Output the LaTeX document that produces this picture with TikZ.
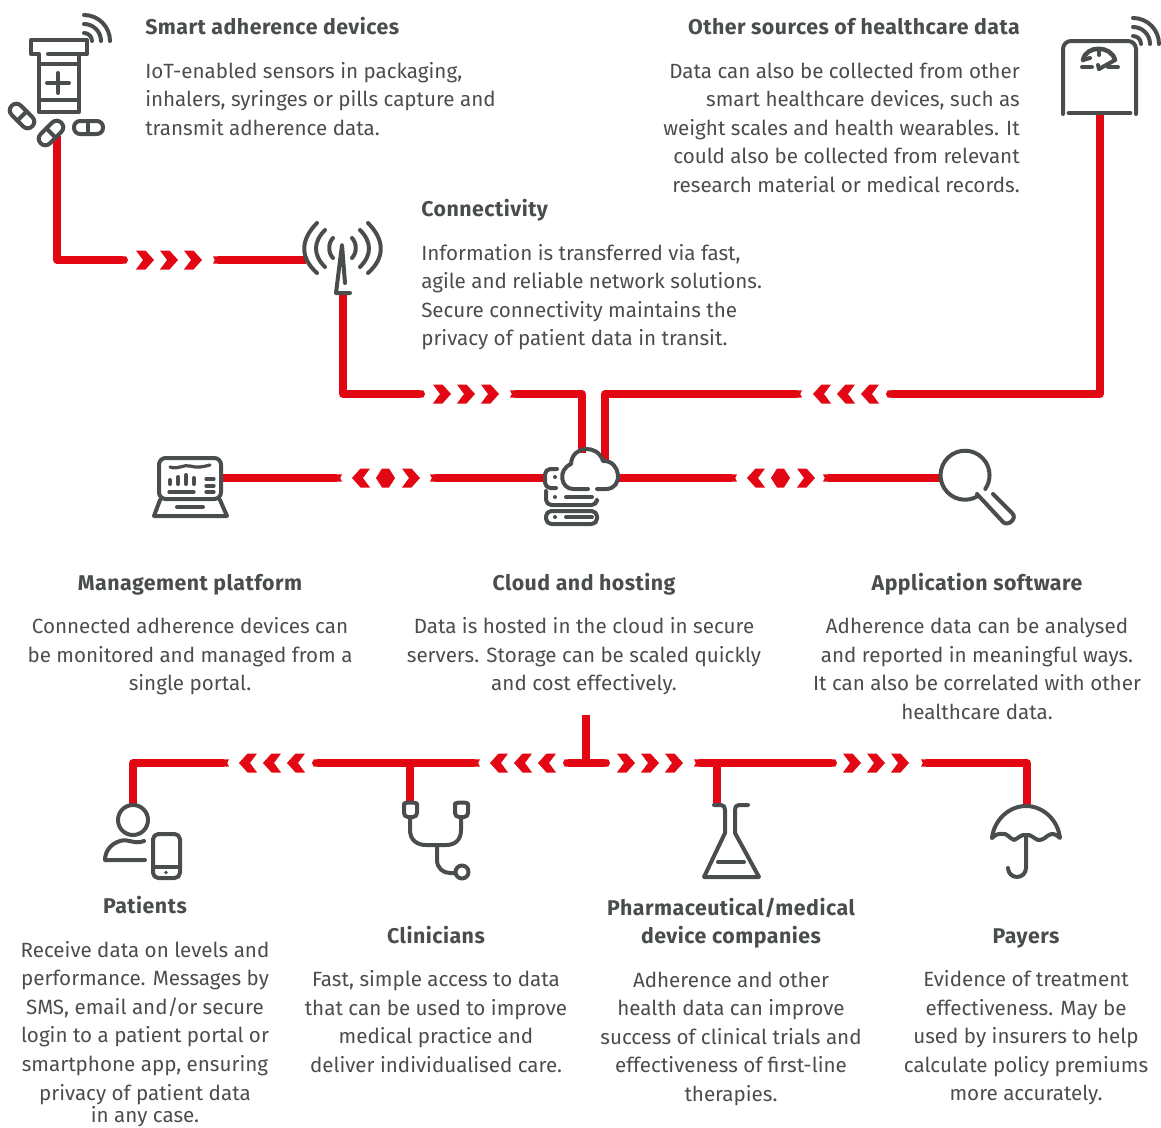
\documentclass[tikz,border=0pt]{standalone}
\usepackage{fontspec}
\setmainfont{Fira Sans}
\usetikzlibrary{arrows.meta}
\definecolor{vred}{HTML}{E30613}
\definecolor{vgray}{HTML}{4A4D4E}
\newcommand{\hd}[1]{{\fontsize{16}{21.45}\selectfont\bfseries\addfontfeature{LetterSpace=2.3}\strut #1}}
\tikzset{
  x=0.75pt,y=-0.75pt,
  flow/.style={draw=vred,line width=5.6pt,line join=round,line cap=butt},
  tipend/.style={-{Triangle Cap[length=1.3pt]}},
  notchend/.style={-{Triangle Cap[length=1.3pt,reversed]}},
  notchstart/.style={{Triangle Cap[length=1.3pt,reversed]}-},
  notchtip/.style={{Triangle Cap[length=1.3pt,reversed]}-{Triangle Cap[length=1.3pt]}},
  tiptip/.style={{Triangle Cap[length=1.3pt]}-{Triangle Cap[length=1.3pt]}},
  icon/.style={draw=vgray,line width=3pt,line cap=round,line join=round},
  iconthin/.style={draw=vgray,line width=2.4pt,line cap=round,line join=round},
  txt/.style={inner sep=0pt,text=vgray,font=\fontsize{15.45}{21.45}\selectfont},
  txtl/.style={txt,anchor=north west,align=left},
  txtr/.style={txt,anchor=north east,align=right},
  txtc/.style={txt,anchor=north,align=center},
  flowr/.pic={\foreach \d in {0,24,48}
    \fill[vred] (\d,-9.5)--(\d+9.5,-9.5)--(\d+18,0)--(\d+9.5,9.5)--(\d,9.5)--(\d+7,0)--cycle;},
  flowl/.pic={\foreach \d in {0,24,48}
    \fill[vred] (\d,0)--(\d+8.5,-9.5)--(\d+18,-9.5)--(\d+11,0)--(\d+18,9.5)--(\d+8.5,9.5)--cycle;},
  flowd/.pic={
    \fill[vred] (0,0)--(8.5,-9.5)--(18,-9.5)--(11,0)--(18,9.5)--(8.5,9.5)--cycle;
    \fill[vred] (24,0)--(30,-9.5)--(37,-9.5)--(43,0)--(37,9.5)--(30,9.5)--cycle;
    \fill[vred] (50,-9.5)--(59.5,-9.5)--(68,0)--(59.5,9.5)--(50,9.5)--(57,0)--cycle;},
  wifi/.pic={
    \draw[icon] (0,-26) arc (-90:0:26);
    \draw[icon] (0,-17) arc (-90:0:17);
    \draw[icon] (0,-8) arc (-90:0:8);}
}
\begin{document}
\begin{tikzpicture}
\useasboundingbox (0,0) rectangle (1161,1128);
% anchors of connectors
\coordinate (pill) at (57,136);
\coordinate (a1) at (128,260);
\coordinate (a2) at (213,260);
\coordinate (mast) at (306,260);
\coordinate (mastb) at (343,295);
\coordinate (b1) at (425,394);
\coordinate (b2) at (510,394);
\coordinate (cl) at (582,453);
\coordinate (cr) at (605,461);
\coordinate (c1) at (802,394);
\coordinate (c2) at (886,394);
\coordinate (scale) at (1100,115);
\coordinate (lap) at (222,478);
\coordinate (d1) at (342,478);
\coordinate (d2) at (430,478);
\coordinate (cloudl) at (546,478);
\coordinate (cloudr) at (618,478);
\coordinate (e1) at (737,478);
\coordinate (e2) at (823,478);
\coordinate (lens) at (941,478);
\coordinate (stem) at (586,715);
\coordinate (hub) at (586,763);
\coordinate (pat) at (133,805);
\coordinate (f1) at (229,763);
\coordinate (f2) at (312,763);
\coordinate (f3) at (480,763);
\coordinate (f4) at (563,763);
\coordinate (f5) at (610,763);
\coordinate (f6) at (694,763);
\coordinate (f7) at (837,763);
\coordinate (f8) at (921,763);
\coordinate (steth) at (410,803);
\coordinate (sj) at (410,763);
\coordinate (flask) at (717,805);
\coordinate (fj) at (717,763);
\coordinate (umb) at (1027,806);
% connectors
\draw[flow,tipend] (pill) |- (a1);
\draw[flow,notchstart] (a2) -- (mast);
\draw[flow,tipend] (mastb) |- (b1);
\draw[flow,notchstart] (b2) -| (cl);
\draw[flow,tipend] (scale) |- (c2);
\draw[flow,notchstart] (c1) -| (cr);
\draw[flow,notchend] (lap) -- (d1);
\draw[flow,notchstart] (d2) -- (cloudl);
\draw[flow,notchend] (cloudr) -- (e1);
\draw[flow,notchstart] (e2) -- (lens);
\draw[flow] (stem) -- (hub);
\draw[flow,notchstart] (f1) -| (pat);
\draw[flow,notchtip] (f3) -- (f2);
\draw[flow,tiptip] (f4) -- (f5);
\draw[flow,notchtip] (f6) -- (f7);
\draw[flow,notchstart] (f8) -| (umb);
\draw[flow] (sj) -- (steth);
\draw[flow] (fj) -- (flask);
% chevrons
\pic at (136,260) {flowr};
\pic at (433,394) {flowr};
\pic at (813,394) {flowl};
\pic at (352,478) {flowd};
\pic at (747,478) {flowd};
\pic at (239,763) {flowl};
\pic at (490,763) {flowl};
\pic at (617,763) {flowr};
\pic at (843,763) {flowr};
% bottle icon
\draw[icon] (48,54)--(87,54)--(87,40)--(31,40)--(31,54)--(39,54)--(39,112)--(79,112)--(79,54);
\draw[icon] (39,64)--(79,64);
\draw[icon] (39,100)--(79,100);
\draw[icon] (47,83)--(69,83);
\draw[icon] (58,73)--(58,93);
\pic at (84,41) {wifi};
\begin{scope}[rotate around={-45:(22,116)}]
  \draw[icon,rounded corners=4.6pt] (7.5,109.5) rectangle (36.5,122.5);
  \draw[icon] (22,109.5)--(22,122.5);
\end{scope}
\begin{scope}[rotate around={45:(51,133)}]
  \draw[icon,rounded corners=4.6pt] (36.5,126.5) rectangle (65.5,139.5);
  \draw[icon] (51,126.5)--(51,139.5);
\end{scope}
\draw[icon,rounded corners=4.6pt] (74,121) rectangle (103,134);
\draw[icon] (88,121)--(88,134);
% scale icon
\draw[icon,rounded corners=6pt] (1063,114)--(1063,41)--(1136,41)--(1136,114);
\draw[icon,line width=3.6pt] (1069,113)--(1130,113);
\draw[icon,line width=3.4pt] (1083,60) .. controls (1086,45) and (1111,45) .. (1115,60);
\draw[icon] (1082,67)--(1092,67);
\draw[icon] (1108,67)--(1118,67);
\draw[icon] (1083,60)--(1090,58);
\draw[icon] (1115,60)--(1099,69);
\draw[icon] (1099,69)--(1098,65);
\draw[icon] (1099,51)--(1099,55);
\pic at (1133,44) {wifi};
% antenna icon
\draw[icon] (345,283)--(342,245)--(336,293)--(350,293);
\draw[icon] (317,223) .. controls (300,240) and (300,258) .. (317,273);
\draw[icon] (325,230) .. controls (313,242) and (313,255) .. (325,267);
\draw[icon] (333,238) .. controls (328,243) and (328,253) .. (333,258);
\draw[icon] (368,223) .. controls (385,240) and (385,258) .. (368,273);
\draw[icon] (360,230) .. controls (372,242) and (372,255) .. (360,267);
\draw[icon] (352,238) .. controls (357,243) and (357,253) .. (352,258);
% laptop icon
\draw[icon,rounded corners=5pt] (159,458) rectangle (221,499);
\draw[icon] (160,500)--(154,516)--(227,516)--(220,500);
\draw[icon] (177,507)--(203,507);
\draw[iconthin] (170,467) .. controls (178,470) and (184,464) .. (190,466) .. controls (197,468) and (203,467) .. (210,465);
\draw[iconthin,line width=3pt] (170,480)--(170,484);
\draw[iconthin,line width=3pt] (178,477)--(178,484);
\draw[iconthin,line width=3pt] (186,475)--(186,484);
\draw[iconthin,line width=3pt] (194,478)--(194,484);
\draw[iconthin] (169,492)--(194,492);
\draw[iconthin] (206,479)--(214,479);
\draw[iconthin] (206,486)--(214,486);
\draw[iconthin] (206,492)--(214,492);
% cloud and servers icon
\draw[icon] (588,489)--(573,489) .. controls (561,489) and (557,470) .. (571,464) .. controls (572,445) and (598,444) .. (603,461) .. controls (621,460) and (624,489) .. (606,489)--(597,489);
\draw[icon,rounded corners=4pt] (557,469)--(545,469)--(545,488)--(556,488);
\draw[icon,rounded corners=4pt] (546,491)--(546,505)--(597,505)--(597,501);
\draw[icon,rounded corners=4pt] (546,511) rectangle (597,524);
\draw[icon] (566,497)--(592,497);
\draw[icon] (566,517)--(592,517);
\fill[vgray] (555,477) circle (2);
\fill[vgray] (555,497) circle (2);
\fill[vgray] (555,517) circle (2);
% magnifier icon
\draw[icon] (978,496) arc (58:394:24.5);
\draw[icon] (977,494)--(1003,522) .. controls (1008,527) and (1018,518) .. (1012,513)--(993,494);
% patient icon
\draw[icon] (133,820) circle (15);
\draw[icon] (144,841) .. controls (134,845) and (128,838) .. (120,841) .. controls (110,844) and (105,852) .. (105,860)--(145,860);
\draw[icon,rounded corners=4pt] (153,834) rectangle (180,878);
\draw[icon] (153,867)--(180,867);
\fill[vgray] (166,872.5) circle (1.8);
% stethoscope icon
\draw[icon,rounded corners=3pt] (404,817)--(404,808) .. controls (404,802) and (417,802) .. (417,808)--(417,817)--cycle;
\draw[icon,rounded corners=3pt] (455,817)--(455,808) .. controls (455,802) and (468,802) .. (468,808)--(468,817)--cycle;
\draw[icon] (410,818)--(410,830) .. controls (410,840) and (417,845) .. (426,845)--(446,845) .. controls (455,845) and (461,840) .. (461,830)--(461,818);
\draw[icon] (437,845)--(437,860) .. controls (437,868) and (443,873) .. (450,873)--(455,873);
\draw[icon] (462,872) circle (6.5);
% flask icon
\draw[icon] (714,805)--(721,805) .. controls (724,805) and (725,807) .. (725,810)--(725,833)--(704,877)--(759,877)--(735,833)--(735,810) .. controls (735,807) and (736,805) .. (739,805)--(748,805);
\draw[icon] (718,862)--(744,862);
% umbrella icon
\draw[icon] (992,838) .. controls (994,820) and (1009,806) .. (1026,806) .. controls (1043,806) and (1058,820) .. (1060,838) .. controls (1056,834) and (1052,833) .. (1049,835) .. controls (1046,836) and (1045,840) .. (1038,840) .. controls (1033,838) and (1031,834) .. (1026,835) .. controls (1021,834) and (1019,838) .. (1014,840) .. controls (1009,838) and (1007,833) .. (1003,834) .. controls (999,833) and (995,835) .. (992,838);
\draw[icon] (1026,835)--(1026,868) arc (0:180:9);
% texts
\node[txtl] (t1) at (145,14.5) {\hd{Smart adherence devices}\\[11pt]IoT-enabled sensors in packaging,\\inhalers, syringes or pills capture and\\transmit adherence data.};
\node[txtr] (t2) at (1020,14.5) {\hd{Other sources of healthcare data}\\[11pt]Data can also be collected from other\\smart healthcare devices, such as\\weight scales and health wearables. It\\could also be collected from relevant\\research material or medical records.};
\node[txtl] (t3) at (421,196.5) {\hd{Connectivity}\\[11pt]Information is transferred via fast,\\agile and reliable network solutions.\\Secure connectivity maintains the\\privacy of patient data in transit.};
\node[txtc] (t4) at (190,570) {\hd{Management platform}\\[11pt]Connected adherence devices can\\be monitored and managed from a\\single portal.};
\node[txtc] (t5) at (584,570) {\hd{Cloud and hosting}\\[11pt]Data is hosted in the cloud in secure\\servers. Storage can be scaled quickly\\and cost effectively.};
\node[txtc] (t6) at (977,570) {\hd{Application software}\\[11pt]Adherence data can be analysed\\and reported in meaningful ways.\\It can also be correlated with other\\healthcare data.};
\node[txtc] (t7) at (145,893.5) {\hd{Patients}\\[11pt]Receive data on levels and\\performance. Messages by\\SMS, email and/or secure\\login to a patient portal or\\smartphone app, ensuring\\privacy of patient data\\[-4.5pt]in any case.};
\node[txtc] (t8) at (436,923) {\hd{Clinicians}\\[11pt]Fast, simple access to data\\that can be used to improve\\medical practice and\\deliver individualised care.};
\node[txtc] (t9) at (731,895) {\hd{Pharmaceutical/medical}\\\hd{device companies}\\[11pt]Adherence and other\\health data can improve\\success of clinical trials and\\effectiveness of first-line\\therapies.};
\node[txtc] (t10) at (1026,923) {\hd{Payers}\\[11pt]Evidence of treatment\\effectiveness. May be\\used by insurers to help\\calculate policy premiums\\more accurately.};
\end{tikzpicture}
\end{document}
